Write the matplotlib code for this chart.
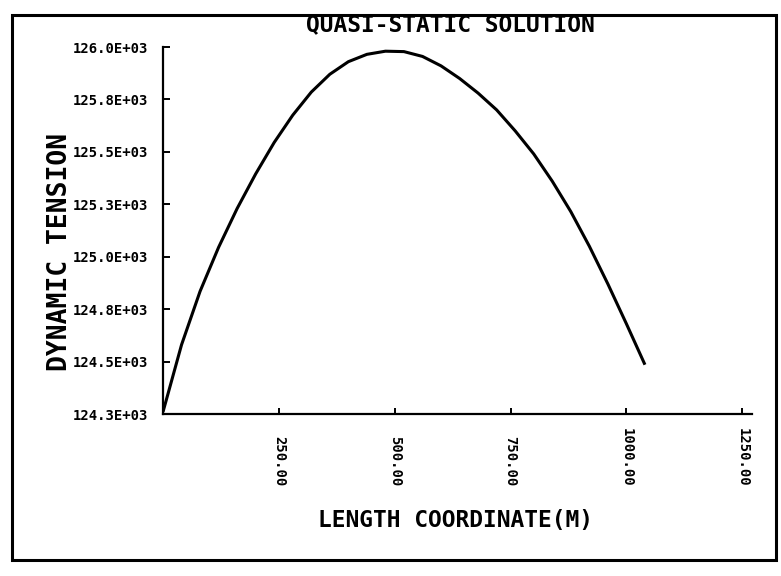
import matplotlib
matplotlib.use("Agg")
import matplotlib.pyplot as plt
from matplotlib.patches import Rectangle

# Quasi-static tension profile along the line
length_m = [0, 40, 80, 120, 160, 200, 240, 280, 320, 360, 400, 440, 480, 520,
            560, 600, 640, 680, 720, 760, 800, 840, 880, 920, 960, 1000, 1040]
tension_k = [124.26, 124.58, 124.835, 125.045, 125.23, 125.395, 125.545,
             125.675, 125.785, 125.87, 125.93, 125.965, 125.98, 125.978,
             125.955, 125.91, 125.85, 125.78, 125.70, 125.60, 125.49, 125.36,
             125.215, 125.05, 124.87, 124.68, 124.485]

x_ticks = [250, 500, 750, 1000, 1250]
x_tick_labels = ["250.00", "500.00", "750.00", "1000.00", "1250.00"]
y_ticks = [124.25, 124.5, 124.75, 125.0, 125.25, 125.5, 125.75, 126.0]
y_tick_labels = ["124.3E+03", "124.5E+03", "124.8E+03", "125.0E+03",
                 "125.3E+03", "125.5E+03", "125.8E+03", "126.0E+03"]

mono = "DejaVu Sans Mono"

fig = plt.figure(figsize=(7.81, 5.76), dpi=100)
fig.patch.set_facecolor("white")

ax = fig.add_axes([163 / 781, (576 - 414) / 576, 589 / 781, (414 - 47) / 576])
ax.plot(length_m, tension_k, color="black", linewidth=2.2,
        solid_joinstyle="round", solid_capstyle="butt")

ax.set_xlim(0, 1271)
ax.set_ylim(124.25, 126.0)

for side in ("top", "right"):
    ax.spines[side].set_visible(False)
for side in ("left", "bottom"):
    ax.spines[side].set_linewidth(1.6)
    ax.spines[side].set_color("black")

ax.set_yticks(y_ticks)
ax.set_yticklabels(y_tick_labels, fontfamily=mono, fontweight="bold", fontsize=10)
ax.tick_params(axis="y", direction="in", length=5, width=1.4, pad=11)

ax.set_xticks(x_ticks)
ax.set_xticklabels(x_tick_labels, fontfamily=mono, fontweight="bold", fontsize=10)
ax.tick_params(axis="x", direction="in", length=4, width=1.4, pad=52)
for lbl in ax.get_xticklabels():
    lbl.set_rotation(-90)
    lbl.set_rotation_mode("anchor")
    lbl.set_ha("right")
    lbl.set_va("center")

fig.text(450 / 781, 1 - 25 / 576, "QUASI-STATIC SOLUTION", fontfamily=mono,
         fontweight="bold", fontsize=16.5, ha="center", va="center")
fig.text(60 / 781, 1 - 252 / 576, "DYNAMIC TENSION", fontfamily=mono,
         fontweight="bold", fontsize=19, rotation=90, ha="center", va="center")
fig.text(455 / 781, 1 - 521 / 576, "LENGTH COORDINATE(M)", fontfamily=mono,
         fontweight="bold", fontsize=16.5, ha="center", va="center")

# Outer frame around the plot
fig.patches.append(Rectangle((12 / 781, 16 / 576), 764 / 781, 545 / 576,
                             transform=fig.transFigure, fill=False,
                             edgecolor="black", linewidth=2.2))

fig.savefig("out.png", dpi=100, facecolor="white")
